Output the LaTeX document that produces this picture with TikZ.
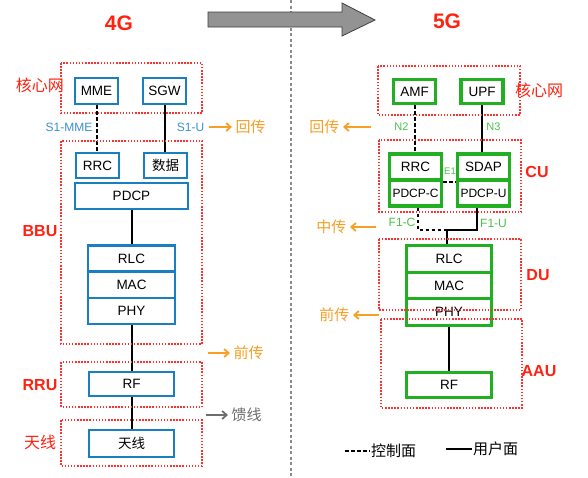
\documentclass[tikz,border=0pt]{standalone}
\usepackage{fontspec}
\setmainfont{Liberation Sans}
\newfontfamily\cjk{Noto Sans CJK SC}
\usetikzlibrary{arrows.meta}
\definecolor{bl}{HTML}{1A7FC1}
\definecolor{bllab}{HTML}{3A90D0}
\definecolor{gr}{HTML}{22B022}
\definecolor{grlab}{HTML}{4CC24C}
\definecolor{zr}{HTML}{FF3030}
\definecolor{lr}{HTML}{FF2211}
\definecolor{orng}{HTML}{F7A025}
\definecolor{fgray}{HTML}{6E6E6E}
\begin{document}
\begin{tikzpicture}[x=1pt,y=-1pt,
  bbox/.style={draw=bl, line width=2.8pt, fill=white, inner sep=0pt, font=\fontsize{13.5}{15}\selectfont},
  gbox/.style={draw=gr, line width=3.2pt, fill=white, inner sep=0pt, font=\fontsize{13.5}{15}\selectfont},
  zone/.style={draw=zr, line width=1.5pt, dash pattern=on 1.5pt off 1.6pt},
  zlabel/.style={text=lr, font=\bfseries\fontsize{16}{18}\selectfont},
  title/.style={text=lr, font=\bfseries\fontsize{21}{24}\selectfont},
  conn/.style={line width=2pt, black},
  ctrl/.style={conn, dash pattern=on 3.5pt off 2.5pt},
  ifl/.style={text=bllab, font=\fontsize{12}{14}\selectfont},
  gfl/.style={text=grlab, font=\fontsize{12}{14}\selectfont},
  olab/.style={text=orng, font=\cjk\fontsize{15}{17}\selectfont},
  oarr/.style={draw=orng, line width=1.8pt, -{Straight Barb[length=4.5pt,width=8pt]}},
]
\useasboundingbox (0,0) rectangle (588,477);
\fill[white] (0,0) rectangle (588,477);

% divider and big arrow
\draw[fgray!80, line width=1.3pt, dash pattern=on 3pt off 2.5pt] (291,0) -- (291,477);
\draw[fill=gray!85, draw=black!75, line width=0.8pt] (208,12) -- (342,12) -- (342,3) -- (375,20) -- (342,36) -- (342,27) -- (208,27) -- cycle;
\node[title] (t4) at (119,23) {4G};
\node[title] (t5) at (447,21) {5G};

% ===== 4G =====
\node[bbox, minimum width=43pt, minimum height=26pt] (mme) at (96.5,91) {MME};
\node[bbox, minimum width=43pt, minimum height=26pt] (sgw) at (164.5,91) {SGW};
\node[bbox, minimum width=43pt, minimum height=25pt] (rrc) at (97.5,165.5) {RRC};
\node[bbox, minimum width=43pt, minimum height=25pt] (data) at (165.5,165.5) {\cjk 数据};
\node[bbox, minimum width=113pt, minimum height=26pt] (pdcp) at (131.5,196) {PDCP};
\node[bbox, minimum width=87pt, minimum height=26pt] (rlc) at (131.5,258.5) {RLC};
\node[bbox, minimum width=87pt, minimum height=26pt] (mac) at (131.5,285) {MAC};
\node[bbox, minimum width=87pt, minimum height=26pt] (phy) at (131.5,311) {PHY};
\node[bbox, minimum width=85pt, minimum height=24pt] (rf) at (131.5,384) {RF};
\node[bbox, minimum width=85pt, minimum height=27pt] (ant) at (131.5,443.5) {\cjk 天线};

\draw[ctrl] (mme.south) -- (mme.south |- rrc.north);
\draw[conn] (sgw.south) -- (sgw.south |- data.north);
\draw[conn] (pdcp.south) -- (rlc.north);
\draw[conn] (phy.south) -- (rf.north);
\draw[conn] (rf.south) -- (ant.north);

\draw[zone] (61,63) rectangle (202,113);
\draw[zone] (61,141) rectangle (202,344);
\draw[zone] (61,362) rectangle (202,407);
\draw[zone] (61,420) rectangle (202,466);

\node[zlabel, font=\cjk\fontsize{16}{18}\selectfont] (lcore4) at (40,85) {核心网};
\node[zlabel] (lbbu) at (40,231) {BBU};
\node[zlabel] (lrru) at (40,385) {RRU};
\node[zlabel, font=\cjk\fontsize{16}{18}\selectfont] (lant) at (40,442) {天线};

\node[ifl] (s1mme) at (69,127) {S1-MME};
\node[ifl] (s1u) at (190.5,127) {S1-U};
\coordinate (a1s) at (209,127); \coordinate (a1e) at (232,127);
\draw[oarr] (a1s) -- (a1e);
\node[olab, anchor=west] (bh4) at (a1e) {回传};
\coordinate (a2s) at (208,353); \coordinate (a2e) at (230,353);
\draw[oarr] (a2s) -- (a2e);
\node[olab, anchor=west] (fh4) at (a2e) {前传};
\coordinate (a3s) at (206,415); \coordinate (a3e) at (228,415);
\draw[draw=fgray, line width=1.8pt, -{Straight Barb[length=4.5pt,width=8pt]}] (a3s) -- (a3e);
\node[olab, text=fgray, anchor=west] (feed) at (a3e) {馈线};

% ===== 5G =====
\node[gbox, minimum width=42pt, minimum height=24pt] (amf) at (414.5,91.5) {AMF};
\node[gbox, minimum width=42pt, minimum height=24pt] (upf) at (482,91.5) {UPF};
\node[gbox, minimum width=52pt, minimum height=26pt] (rrc5) at (415.5,167) {RRC};
\node[gbox, minimum width=52pt, minimum height=26pt, font=\fontsize{12}{14}\selectfont] (pdcpc) at (415.5,193) {PDCP-C};
\node[gbox, minimum width=52pt, minimum height=26pt] (sdap) at (483.5,167) {SDAP};
\node[gbox, minimum width=52pt, minimum height=26pt, font=\fontsize{12}{14}\selectfont] (pdcpu) at (483.5,193) {PDCP-U};
\node[gbox, minimum width=85pt, minimum height=26.5pt] (rlc5) at (449,259) {RLC};
\node[gbox, minimum width=85pt, minimum height=26.5pt] (mac5) at (449,285.5) {MAC};
\node[gbox, minimum width=85pt, minimum height=26.5pt] (phy5) at (449,312) {PHY};
\node[gbox, minimum width=85pt, minimum height=25pt] (rf5) at (449,385) {RF};

\draw[ctrl] (amf.south) -- (amf.south |- rrc5.north);
\draw[conn] (upf.south) -- (upf.south |- sdap.north);
\draw[ctrl] (rrc5.south east) -- (sdap.south west);
\coordinate (j) at (447,230);
\draw[ctrl] ([xshift=2.5pt]pdcpc.south) |- (j);
\draw[conn] ([xshift=-6.5pt]pdcpu.south) |- (j);
\draw[conn] (j) -- (j |- rlc5.north);
\draw[conn] (phy5.south) -- (rf5.north);

\draw[zone] (378,66) rectangle (520,115);
\draw[zone] (379,140) rectangle (521,212);
\draw[zone] (379,239) rectangle (521,310);
\draw[zone] (381,319) rectangle (522,408);

\node[zlabel, font=\cjk\fontsize{16}{18}\selectfont] (lcore5) at (539,90) {核心网};
\node[zlabel] (lcu) at (537,172) {CU};
\node[zlabel] (ldu) at (538,275) {DU};
\node[zlabel] (laau) at (539,371) {AAU};

\node[gfl, font=\fontsize{11}{13}\selectfont] (n2) at (401.5,127) {N2};
\node[gfl, font=\fontsize{11}{13}\selectfont] (n3) at (493.5,127) {N3};
\node[gfl, font=\fontsize{9.5}{11}\selectfont] (e1) at (450,171) {E1};
\node[gfl] (f1c) at (402,222) {F1-C};
\node[gfl] (f1u) at (493.5,223) {F1-U};

\coordinate (b1s) at (371,127); \coordinate (b1e) at (343,127);
\draw[oarr] (b1s) -- (b1e);
\node[olab, anchor=east] (bh5) at (b1e) {回传};
\coordinate (b2s) at (376,227); \coordinate (b2e) at (350,227);
\draw[oarr] (b2s) -- (b2e);
\node[olab, anchor=east] (mh5) at (b2e) {中传};
\coordinate (b3s) at (379,315); \coordinate (b3e) at (353,315);
\draw[oarr] (b3s) -- (b3e);
\node[olab, anchor=east] (fh5) at (b3e) {前传};

% legend
\coordinate (lg1) at (345,451); \coordinate (lg2) at (370,451);
\draw[ctrl] (lg1) -- (lg2);
\node[anchor=west, inner sep=1pt, font=\cjk\fontsize{15}{17}\selectfont] (lgc) at (lg2) {控制面};
\coordinate (lg3) at (446,449); \coordinate (lg4) at (472,449);
\draw[conn] (lg3) -- (lg4);
\node[anchor=west, inner sep=1pt, font=\cjk\fontsize{15}{17}\selectfont] (lgu) at (lg4) {用户面};
\end{tikzpicture}
\end{document}
